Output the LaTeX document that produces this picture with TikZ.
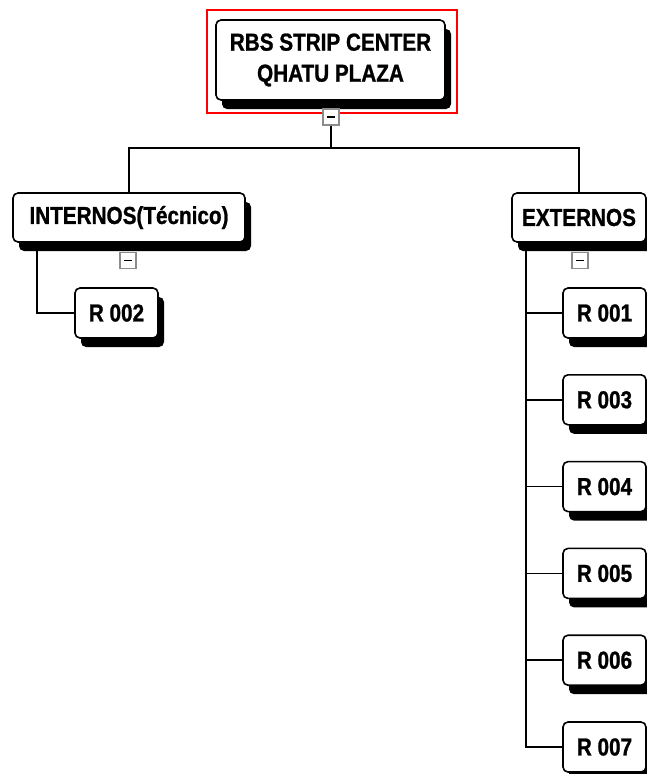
\documentclass[tikz,border=0pt]{standalone}
\usepackage{fontspec}
\newfontfamily\boxfont{Liberation Sans}[FakeStretch=0.845,FakeBold=1]
\usetikzlibrary{shadows,backgrounds}
\tikzset{
  box/.style={draw=black, line width=1.6pt, fill=white, rounded corners=5pt,
    minimum height=50pt, inner sep=0pt, align=center,
    font=\boxfont\bfseries\fontsize{24.5}{31}\selectfont,
    drop shadow={shadow xshift=6pt, shadow yshift=-9pt, fill=black, opacity=1}},
  minus/.style={draw=black!45, fill=white, minimum width=16pt, minimum height=16pt, inner sep=0pt, line width=1.2pt},
  conn/.style={draw=black, line width=1.7pt},
  sel/.style={draw=red, line width=1.3pt}
}
\newcommand{\minusmark}[1]{\draw[line width=1.8pt] ([xshift=-4pt]#1.center) -- ([xshift=4pt]#1.center);}
\begin{document}
\begin{tikzpicture}[x=1pt,y=-1pt]
\useasboundingbox (0,0) rectangle (646,774);
% selection frame
\draw[sel] (207,10) rectangle (457,113);
% nodes
\node[box, minimum width=229pt, minimum height=80pt] (root) at (330.5,60) {RBS STRIP CENTER\\QHATU PLAZA};
\node[box, minimum width=232pt, minimum height=49pt] (int) at (129,217.5) {INTERNOS(Técnico)};
\node[box, minimum width=134pt, minimum height=49pt] (ext) at (579,217.5) {EXTERNOS};
\node[box, minimum width=83pt] (r2) at (116.5,313) {R 002};
\node[box, minimum width=83pt] (r1) at (604.5,313) {R 001};
\node[box, minimum width=83pt] (r3) at (604.5,399.8) {R 003};
\node[box, minimum width=83pt] (r4) at (604.5,486.6) {R 004};
\node[box, minimum width=83pt] (r5) at (604.5,573.4) {R 005};
\node[box, minimum width=83pt] (r6) at (604.5,660.2) {R 006};
\node[box, minimum width=83pt] (r7) at (604.5,747) {R 007};
% collapse markers
\node[minus] (m0) at (331,117) {};
\node[minus] (m1) at (128,260.5) {};
\node[minus] (m2) at (580,260.5) {};
\minusmark{m0}\minusmark{m1}\minusmark{m2}
% connectors
\coordinate (j) at (331,148);
\coordinate (iv) at (37,242);
\coordinate (ev) at (526,242);
\begin{scope}[on background layer]
  \draw[conn] (m0.south) -- (j);
  \draw[conn] (int.north) |- (j) -| (ext.north);
  \draw[conn] (iv) |- (r2.west);
  \draw[conn] (ev) |- (r7.west);
  \draw[conn] (r1.west) -- (r1.west -| ev);
  \draw[conn] (r3.west) -- (r3.west -| ev);
  \draw[conn] (r4.west) -- (r4.west -| ev);
  \draw[conn] (r5.west) -- (r5.west -| ev);
  \draw[conn] (r6.west) -- (r6.west -| ev);
\end{scope}
\end{tikzpicture}
\end{document}
